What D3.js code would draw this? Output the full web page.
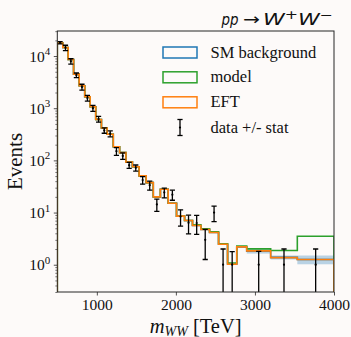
<!DOCTYPE html>
<html>
<head>
<meta charset="utf-8">
<script src="https://cdn.jsdelivr.net/npm/d3@7"></script>
<style>
  html, body { margin: 0; padding: 0; background: #fdfaf9; }
  svg { display: block; }
</style>
</head>
<body>
<svg id="chart" width="351" height="337"></svg>
<script>
// Invariant-mass bins (upper edge of bin i is binEdges[i+1])
const binEdges = [500, 570, 637, 706, 777, 847, 915, 986, 1058, 1130, 1208, 1288, 1368, 1450, 1535,
                  1624, 1714, 1804, 1903, 2008, 2110, 2210, 2316, 2426, 2540, 2654, 2770, 2896, 3199, 3536, 4000];

// Expected events per bin
const smBackground = [17700, 14600, 8600, 4500, 2700, 1660, 1070, 607, 417, 317, 182, 141, 92.7, 75.3, 50.4,
                      37.5, 20.0, 27.9, 15.1, 8.53, 7.05, 5.65, 4.74, 4.15, 2.47, 1.02, 2.18, 1.82, 1.38, 1.26];
const smUncertainty = [350, 290, 170, 90, 54, 33, 21, 12, 8.3, 6.3, 3.6, 2.8, 1.9, 1.5, 1.0,
                       0.75, 0.4, 0.56, 0.3, 0.17, 0.14, 0.11, 0.09, 0.08, 0.05, 0.03, 0.06, 0.185, 0.12, 0.24];
const modelSignal = [17700, 14600, 8600, 4500, 2700, 1660, 1070, 607, 417, 317, 182, 141, 92.7, 75.3, 50.4,
                     37.5, 20.0, 27.9, 15.1, 8.53, 7.05, 5.8, 4.88, 4.27, 2.52, 1.08, 2.28, 2.01, 1.87, 3.52];
const eftSignal = [17700, 14600, 8600, 4500, 2700, 1660, 1070, 607, 417, 317, 182, 141, 92.7, 75.3, 50.4,
                   37.5, 20.0, 27.9, 15.1, 8.53, 7.05, 5.65, 4.74, 4.15, 2.47, 1.02, 2.20, 1.84, 1.37, 1.26];

// Observed events and their statistical errors (0 = empty bin)
const observed = [18000, 14400, 7950, 4300, 2550, 1570, 1000, 620, 375, 325, 150, 122, 81, 72, 42,
                  33.5, 14.3, 24.3, 22, 8.4, 6.4, 6.3, 3.0, 10, 1, 1, 0, 1, 1, 1];
const observedErr = [900, 1700, 930, 430, 330, 200, 130, 80, 44, 42, 25, 17, 10.5, 9.5, 7,
                     6.7, 3.8, 5.2, 4.8, 2.9, 2.5, 2.5, 1.74, 3.3, 1, 0.78, 0, 0.8, 1, 1];

const xTicks = [1000, 2000, 3000, 4000];
const yTicks = [1, 10, 100, 1000, 10000];
const yTickExp = ["0", "1", "2", "3", "4"];
const legendLabels = ["SM background", "model", "EFT", "data +/- stat"];

const colors = { sm: "#1f77b4", model: "#2ca02c", eft: "#ff7f0e", data: "#000000" };
const serif = "'Liberation Serif', 'DejaVu Serif', serif";
const sans = "'DejaVu Sans', sans-serif";

const W = 351, H = 337;
const plot = { left: 57.3, right: 334, top: 31, bottom: 292 };

const svg = d3.select("#chart");
svg.append("rect").attr("width", W).attr("height", H).attr("fill", "#fdfaf9");

const x = d3.scaleLinear().domain([500, 4000]).range([plot.left, plot.right]);
const y = d3.scaleLog().domain([0.3, 30200]).range([plot.bottom, plot.top]);
const yMin = y.domain()[0];

svg.append("clipPath").attr("id", "plotClip")
  .append("rect")
  .attr("x", plot.left).attr("y", plot.top)
  .attr("width", plot.right - plot.left).attr("height", plot.bottom - plot.top);

const layer = svg.append("g").attr("clip-path", "url(#plotClip)");
const bins = d3.range(binEdges.length - 1);

// SM uncertainty band
layer.append("g").selectAll("rect")
  .data(bins)
  .join("rect")
  .attr("x", i => x(binEdges[i]))
  .attr("width", i => x(binEdges[i + 1]) - x(binEdges[i]))
  .attr("y", i => y(smBackground[i] + smUncertainty[i]))
  .attr("height", i => y(Math.max(smBackground[i] - smUncertainty[i], yMin)) - y(smBackground[i] + smUncertainty[i]))
  .attr("fill", colors.sm)
  .attr("fill-opacity", 0.3);

// Step outline of a histogram
function stepPoints(vals) {
  const pts = [[binEdges[0], yMin]];
  vals.forEach((v, i) => {
    pts.push([binEdges[i], v]);
    pts.push([binEdges[i + 1], v]);
  });
  pts.push([binEdges[binEdges.length - 1], yMin]);
  return pts;
}
const stepLine = d3.line().x(d => x(d[0])).y(d => y(d[1]));

[[smBackground, colors.sm], [modelSignal, colors.model], [eftSignal, colors.eft]].forEach(([vals, c]) => {
  layer.append("path")
    .attr("d", stepLine(stepPoints(vals)))
    .attr("fill", "none")
    .attr("stroke", c)
    .attr("stroke-width", 1.6)
    .attr("stroke-linejoin", "miter");
});

// Data points with error bars
const capHalf = 2.6;
const dataG = layer.append("g");
bins.filter(i => observed[i] > 0).forEach(i => {
  const cx = x((binEdges[i] + binEdges[i + 1]) / 2);
  const hi = observed[i] + observedErr[i];
  const lo = observed[i] - observedErr[i];
  const yTop = y(hi);
  const yBot = lo > 0 ? y(lo) : plot.bottom + 5;
  const g = dataG.append("g").attr("stroke", colors.data).attr("stroke-width", 1.3);
  g.append("line").attr("x1", cx).attr("x2", cx).attr("y1", yTop).attr("y2", yBot);
  g.append("line").attr("x1", cx - capHalf).attr("x2", cx + capHalf).attr("y1", yTop).attr("y2", yTop);
  if (lo > 0) g.append("line").attr("x1", cx - capHalf).attr("x2", cx + capHalf).attr("y1", yBot).attr("y2", yBot);
  dataG.append("circle").attr("cx", cx).attr("cy", y(observed[i])).attr("r", 1.1).attr("fill", colors.data);
});

// Axes
const axisColor = "#262626";
const xAxis = svg.append("g")
  .attr("transform", `translate(0,${plot.bottom})`)
  .call(d3.axisBottom(x).tickValues(xTicks).tickSize(3.5).tickPadding(3).tickFormat(d3.format("d")));
xAxis.select(".domain").remove();
xAxis.selectAll("line").attr("stroke", axisColor).attr("stroke-width", 0.8);
xAxis.selectAll("text").attr("font-family", serif).attr("font-size", 15.5).attr("fill", "#111");

const yMinor = [];
for (let e = -1; e <= 4; e++) {
  for (let m = 2; m <= 9; m++) {
    const v = m * Math.pow(10, e);
    if (v >= y.domain()[0] && v <= y.domain()[1]) yMinor.push(v);
  }
}
const yAxisMinor = svg.append("g")
  .attr("transform", `translate(${plot.left},0)`)
  .call(d3.axisLeft(y).tickValues(yMinor).tickSize(2).tickFormat(""));
yAxisMinor.select(".domain").remove();
yAxisMinor.selectAll("line").attr("stroke", axisColor).attr("stroke-width", 0.6);

const yAxis = svg.append("g")
  .attr("transform", `translate(${plot.left},0)`)
  .call(d3.axisLeft(y).tickValues(yTicks).tickSize(3.5).tickFormat(""));
yAxis.select(".domain").remove();
yAxis.selectAll("line").attr("stroke", axisColor).attr("stroke-width", 0.8);

yTicks.forEach((v, i) => {
  const t = svg.append("text")
    .attr("x", plot.left - 7)
    .attr("y", y(v) + 5.5)
    .attr("text-anchor", "end")
    .attr("font-family", serif)
    .attr("font-size", 15.5)
    .attr("fill", "#111");
  t.append("tspan").text("10");
  t.append("tspan").attr("dy", -6.5).attr("font-size", 11).text(yTickExp[i]);
});

// Frame
svg.append("rect")
  .attr("x", plot.left).attr("y", plot.top)
  .attr("width", plot.right - plot.left).attr("height", plot.bottom - plot.top)
  .attr("fill", "none").attr("stroke", axisColor).attr("stroke-width", 1);

// Axis titles
const xl = svg.append("text")
  .attr("x", (plot.left + plot.right) / 2)
  .attr("y", 332.5)
  .attr("text-anchor", "middle")
  .attr("font-family", serif)
  .attr("font-size", 20.5)
  .attr("fill", "#111");
xl.append("tspan").attr("font-style", "italic").text("m");
xl.append("tspan").attr("font-style", "italic").attr("font-size", 14).attr("dy", 3).text("WW");
xl.append("tspan").attr("dy", -3).text(" [TeV]");

svg.append("text")
  .attr("transform", `translate(22,${(plot.top + plot.bottom) / 2}) rotate(-90)`)
  .attr("text-anchor", "middle")
  .attr("font-family", serif)
  .attr("font-size", 21)
  .attr("fill", "#111")
  .text("Events");

// Process title: pp → W+W−
const titleY = 25;
svg.append("text")
  .attr("x", 221.5).attr("y", titleY)
  .attr("font-family", sans).attr("font-style", "italic").attr("font-size", 16)
  .attr("textLength", 17).attr("lengthAdjust", "spacingAndGlyphs")
  .attr("fill", "#111")
  .text("pp");
svg.append("text")
  .attr("x", 243).attr("y", titleY - 0.5)
  .attr("font-family", sans).attr("font-size", 16)
  .attr("textLength", 17).attr("lengthAdjust", "spacingAndGlyphs")
  .attr("fill", "#111")
  .text("\u2192");
const ww = svg.append("text")
  .attr("x", 263).attr("y", titleY)
  .attr("font-family", sans).attr("font-size", 16)
  .attr("textLength", 70).attr("lengthAdjust", "spacingAndGlyphs")
  .attr("fill", "#111");
ww.append("tspan").attr("font-style", "italic").text("W");
ww.append("tspan").attr("font-size", 11.5).attr("dy", -6.5).text("+");
ww.append("tspan").attr("font-style", "italic").attr("dy", 6.5).text("W");
ww.append("tspan").attr("font-size", 11.5).attr("dy", -6.5).text("\u2212");

// Legend
const legend = svg.append("g");
const rowY = [52.5, 77.3, 102.3, 127.5];
const boxX = 163, boxW = 34, boxH = 11;
[colors.sm, colors.model, colors.eft].forEach((c, i) => {
  legend.append("rect")
    .attr("x", boxX).attr("y", rowY[i] - boxH / 2)
    .attr("width", boxW).attr("height", boxH)
    .attr("fill", "none").attr("stroke", c).attr("stroke-width", 1.5);
});
const lgX = boxX + boxW / 2;
const lg = legend.append("g").attr("stroke", colors.data).attr("stroke-width", 1.3);
lg.append("line").attr("x1", lgX).attr("x2", lgX).attr("y1", rowY[3] - 8).attr("y2", rowY[3] + 8);
lg.append("line").attr("x1", lgX - capHalf).attr("x2", lgX + capHalf).attr("y1", rowY[3] - 8).attr("y2", rowY[3] - 8);
lg.append("line").attr("x1", lgX - capHalf).attr("x2", lgX + capHalf).attr("y1", rowY[3] + 8).attr("y2", rowY[3] + 8);
legend.append("circle").attr("cx", lgX).attr("cy", rowY[3]).attr("r", 1.1).attr("fill", colors.data);

legendLabels.forEach((lab, i) => {
  legend.append("text")
    .attr("x", 210.5)
    .attr("y", rowY[i] + 5)
    .attr("font-family", serif)
    .attr("font-size", 16.5)
    .attr("fill", "#111")
    .text(lab);
});
</script>
</body>
</html>
